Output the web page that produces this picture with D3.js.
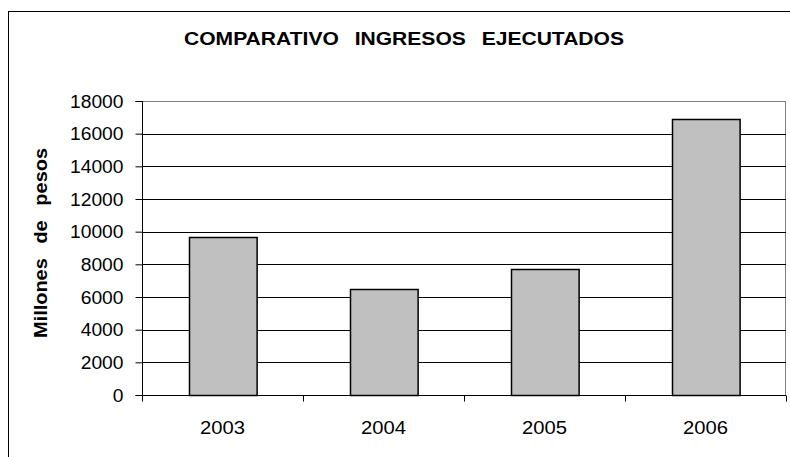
<!DOCTYPE html>
<html>
<head>
<meta charset="utf-8">
<script src="https://cdn.jsdelivr.net/npm/d3@7"></script>
<style>
  body { margin: 0; background: #fff; }
  text { font-family: "Liberation Sans", Arial, sans-serif; fill: #000; }
</style>
</head>
<body>
<div id="chart"></div>
<script>
// data
var years = ["2003", "2004", "2005", "2006"];
var ingresos = [9680, 6480, 7710, 16920];
var yTicks = [0, 2000, 4000, 6000, 8000, 10000, 12000, 14000, 16000, 18000];

var margin = {top: 101, right: 4, bottom: 62, left: 142},
    width = 790 - margin.left - margin.right,
    height = 457 - margin.top - margin.bottom;

var svg = d3.select("#chart")
  .append("svg")
    .attr("width", 790)
    .attr("height", 457);

// outer chart border (cut off at right and bottom)
svg.append("rect")
  .attr("x", 8.5).attr("y", 11.5)
  .attr("width", 800).attr("height", 460)
  .attr("fill", "none")
  .attr("stroke", "#000")
  .attr("stroke-width", 1);

svg.append("text")
  .attr("x", 404).attr("y", 45)
  .attr("text-anchor", "middle")
  .attr("textLength", 440)
  .attr("lengthAdjust", "spacingAndGlyphs")
  .style("font-size", "19px")
  .style("font-weight", "bold")
  .style("word-spacing", "9px")
  .text("COMPARATIVO INGRESOS EJECUTADOS");

var g = svg.append("g")
  .attr("transform", "translate(" + margin.left + "," + margin.top + ")");

var x = d3.scaleBand()
  .domain(years)
  .range([0, width])
  .paddingInner(0.58)
  .paddingOuter(0.29);

var xCat = d3.scaleBand()
  .domain(years)
  .range([0, width]);

var y = d3.scaleLinear()
  .domain([0, 18000])
  .range([height, 0]);

// plot area frame (gray)
g.append("rect")
  .attr("x", 0.5).attr("y", 0.5)
  .attr("width", width - 1).attr("height", height)
  .attr("fill", "none")
  .attr("stroke", "#808080");

// gridlines
g.selectAll(".grid")
  .data(yTicks.slice(1, -1))
  .enter().append("line")
    .attr("x1", 0).attr("x2", width)
    .attr("y1", function(d) { return Math.round(y(d)) + 0.5; })
    .attr("y2", function(d) { return Math.round(y(d)) + 0.5; })
    .attr("stroke", "#000");

// bars
g.selectAll(".bar")
  .data(ingresos)
  .enter().append("rect")
    .attr("x", function(d, i) { return Math.round(x(years[i])) + 0.5; })
    .attr("y", function(d) { return Math.round(y(d)) + 0.5; })
    .attr("width", x.bandwidth())
    .attr("height", function(d) { return height - Math.round(y(d)); })
    .attr("fill", "#c0c0c0")
    .attr("stroke", "#000")
    .attr("stroke-width", 1.5);

// y axis
var yAxis = g.append("g")
  .attr("transform", "translate(0.5,0)")
  .call(d3.axisLeft(y).tickValues(yTicks).tickSize(7).tickPadding(12).tickFormat(d3.format("d")));
yAxis.selectAll("text")
  .style("font-size", "17.5px")
  .attr("textLength", function(d) { return String(d).length * 10.7; })
  .attr("lengthAdjust", "spacingAndGlyphs")
  .attr("dy", "0.36em");
yAxis.selectAll("line, path").attr("stroke", "#000");
yAxis.select(".domain").attr("d", "M-7," + (height + 0.5) + "H0V0.5H-7");

// x axis: ticks at category boundaries
var xAxis = g.append("g")
  .attr("transform", "translate(0," + (height + 0.5) + ")");
xAxis.append("line")
  .attr("x1", 0).attr("x2", width)
  .attr("stroke", "#000");
xAxis.selectAll(".tick")
  .data(years.concat(["end"]))
  .enter().append("line")
    .attr("x1", function(d, i) { return Math.round(i * xCat.bandwidth()) + 0.5; })
    .attr("x2", function(d, i) { return Math.round(i * xCat.bandwidth()) + 0.5; })
    .attr("y1", 0).attr("y2", 6)
    .attr("stroke", "#000");
xAxis.selectAll(".lbl")
  .data(years)
  .enter().append("text")
    .attr("x", function(d) { return xCat(d) + xCat.bandwidth() / 2; })
    .attr("y", 38)
    .attr("text-anchor", "middle")
    .attr("textLength", 45)
    .attr("lengthAdjust", "spacingAndGlyphs")
    .style("font-size", "17.5px")
    .text(function(d) { return d; });

// y axis title
svg.append("text")
  .attr("transform", "translate(47,243) rotate(-90)")
  .attr("text-anchor", "middle")
  .attr("textLength", 190)
  .attr("lengthAdjust", "spacingAndGlyphs")
  .style("font-size", "17.5px")
  .style("font-weight", "bold")
  .style("word-spacing", "8px")
  .text("Millones de pesos");
</script>
</body>
</html>
